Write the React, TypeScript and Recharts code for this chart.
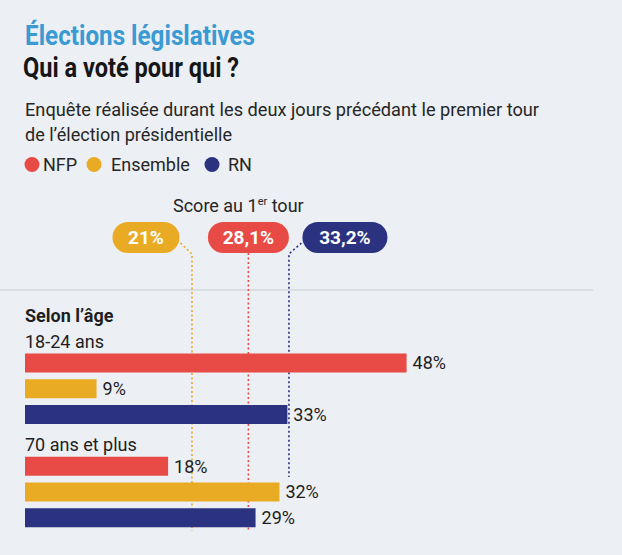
import { BarChart, Bar, XAxis, YAxis, Cell, LabelList, ReferenceLine } from 'recharts'

// ─── Data ────────────────────────────────────────────────────────────────────

const parties = ['NFP', 'Ensemble', 'RN']
const partyColors = ['#e84b45', '#eaab24', '#2b3280']
const ageGroups = ['18-24 ans', '70 ans et plus']
const votes1824 = [48, 9, 33]
const votes70plus = [18, 32, 29]
const firstRoundScores = [28.1, 21, 33.2]
const firstRoundLabels = ['28,1%', '21%', '33,2%']
const sectionTitle = 'Selon l’âge'

const title = 'Élections législatives'
const subtitle = 'Qui a voté pour qui ?'
const intro = [
  'Enquête réalisée durant les deux jours précédant le premier tour',
  'de l’élection présidentielle',
]

// ─── Layout ──────────────────────────────────────────────────────────────────

const W = 622
const H = 555
const FONT = 'Roboto, "Noto Sans", sans-serif'
const BG = '#eceff3'

// pill placement relative to each score line (style only)
const pillStyle = [
  { dx: 0, width: 81, cut: 0 },
  { dx: -46, width: 67, cut: 0 },
  { dx: 56, width: 85, cut: 54 },
]

type Row = {
  id: string
  kind: 'section' | 'group' | 'bar'
  label?: string
  value: number | null
  color?: string
}

const groupVotes = [votes1824, votes70plus]

const rows: Row[] = [
  { id: 'section', kind: 'section', label: sectionTitle, value: null },
  ...ageGroups.flatMap((g, gi): Row[] => [
    { id: g, kind: 'group', label: g, value: null },
    ...parties.map((p, pi) => ({
      id: `${g}-${p}`,
      kind: 'bar' as const,
      value: groupVotes[gi][pi],
      color: partyColors[pi],
    })),
  ]),
]

// ─── Pieces ──────────────────────────────────────────────────────────────────

function RowTick(props: any) {
  const { x, y, payload } = props
  const row = rows.find((r) => r.id === payload?.value)
  if (!row || row.kind === 'bar') return null
  return (
    <text
      x={x}
      y={y + 10}
      fontFamily={FONT}
      fontSize={18}
      fontWeight={row.kind === 'section' ? 700 : 400}
      fill="#1e1e1e"
      textAnchor="start"
    >
      {row.label}
    </text>
  )
}

function scoreMarker(pi: number) {
  return (props: any) => {
    const { x1, y1, y2 } = props
    const x = x1
    const top = Math.min(y1, y2)
    const bottom = Math.max(y1, y2) - pillStyle[pi].cut
    const color = partyColors[pi]
    const { dx, width } = pillStyle[pi]
    const cx = x + dx
    const pillTop = top - 77
    const pillH = 31
    let d: string
    if (dx === 0) {
      d = `M${x},${pillTop + pillH} L${x},${bottom}`
    } else {
      const edge = dx < 0 ? cx + width / 2 + 1 : cx - width / 2 - 1
      d = `M${edge},${top - 56} L${x},${top - 45} L${x},${bottom}`
    }
    return (
      <g>
        <path d={d} fill="none" stroke={color} strokeWidth={1.6} strokeDasharray="2 2.5" />
        <rect
          x={cx - width / 2}
          y={pillTop}
          width={width}
          height={pillH}
          rx={pillH / 2}
          fill={color}
        />
        <text
          x={cx}
          y={pillTop + 22}
          textAnchor="middle"
          fontFamily={FONT}
          fontSize={19}
          fontWeight={700}
          fill="#ffffff"
        >
          {firstRoundLabels[pi]}
        </text>
      </g>
    )
  }
}

function Header() {
  const legendX = [32, 94, 212]
  const legendTextX = [43, 111, 228]
  return (
    <svg width={W} height={H} style={{ position: 'absolute', left: 0, top: 0 }}>
      <text
        x={25}
        y={45}
        fontFamily={FONT}
        fontSize={27}
        fontWeight={700}
        fill="#3a9ad4"
        textLength={230}
        lengthAdjust="spacingAndGlyphs"
      >
        {title}
      </text>
      <text
        x={23}
        y={77}
        fontFamily={FONT}
        fontSize={27}
        fontWeight={700}
        fill="#161616"
        textLength={216}
        lengthAdjust="spacingAndGlyphs"
      >
        {subtitle}
      </text>
      <text
        x={25}
        y={116}
        fontFamily={FONT}
        fontSize={18}
        fill="#262626"
        textLength={514}
        lengthAdjust="spacingAndGlyphs"
      >
        {intro[0]}
      </text>
      <text
        x={25}
        y={141}
        fontFamily={FONT}
        fontSize={18}
        fill="#262626"
        textLength={207}
        lengthAdjust="spacingAndGlyphs"
      >
        {intro[1]}
      </text>
      {parties.map((p, i) => (
        <g key={p}>
          <circle cx={legendX[i]} cy={164.5} r={7.5} fill={partyColors[i]} />
          <text x={legendTextX[i]} y={171} fontFamily={FONT} fontSize={18} fill="#262626">
            {p}
          </text>
        </g>
      ))}
      <text x={173} y={212} fontFamily={FONT} fontSize={18} fill="#262626">
        Score au 1
        <tspan fontSize={11} dy={-7}>
          er
        </tspan>
        <tspan dy={7}> tour</tspan>
      </text>
      <line x1={0} x2={593} y1={290} y2={290} stroke="#d5d9de" strokeWidth={1.5} />
    </svg>
  )
}

// ─── Component ───────────────────────────────────────────────────────────────

export default function App() {
  return (
    <div
      style={{
        position: 'absolute',
        left: 0,
        top: 0,
        width: W,
        height: H,
        background: BG,
        overflow: 'hidden',
        fontFamily: FONT,
      }}
    >
      <Header />
      <div style={{ position: 'absolute', left: 0, top: 0 }}>
        <BarChart
          width={W}
          height={H}
          data={rows}
          layout="vertical"
          margin={{ top: 299, right: 120, bottom: 24, left: 0 }}
        >
          <XAxis type="number" domain={[0, 60]} hide />
          <YAxis
            type="category"
            dataKey="id"
            width={25}
            axisLine={false}
            tickLine={false}
            tickSize={0}
            tickMargin={0}
            interval={0}
            tick={<RowTick />}
          />
          {firstRoundScores.map((s, pi) => (
            <ReferenceLine
              key={parties[pi]}
              x={s}
              stroke={partyColors[pi]}
              shape={scoreMarker(pi)}
              zIndex={100}
            />
          ))}
          <Bar dataKey="value" barSize={19} isAnimationActive={false}>
            {rows.map((r) => (
              <Cell key={r.id} fill={r.color ?? 'transparent'} />
            ))}
            <LabelList
              dataKey="value"
              position="right"
              offset={6}
              formatter={(v: any) => (v == null ? '' : `${v}%`)}
              fill="#1e1e1e"
              fontSize={18}
              fontFamily={FONT}
            />
          </Bar>
        </BarChart>
      </div>
    </div>
  )
}
